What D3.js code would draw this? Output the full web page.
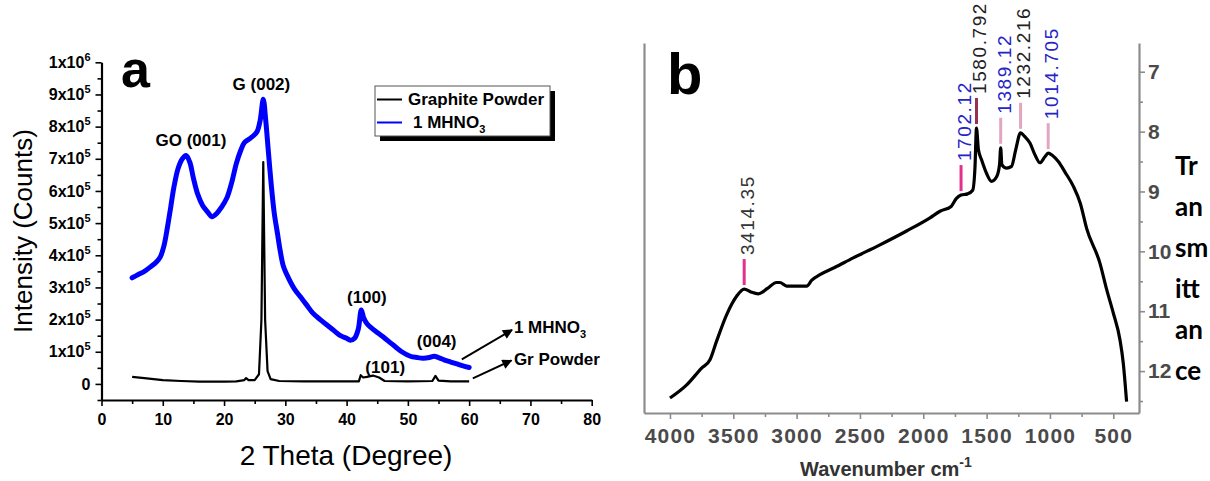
<!DOCTYPE html>
<html>
<head>
<meta charset="utf-8">
<script src="https://cdn.jsdelivr.net/npm/d3@7"></script>
<style>
body { margin: 0; background: #fff; }
svg { display: block; font-family: "Liberation Sans", Arial, sans-serif; }
</style>
</head>
<body>
<div class="chart"></div>
<script>
// ---------- panel a : XRD ----------
var grTheta = [5, 7, 10, 13, 16, 20, 22, 23.3, 23.6, 24, 25, 25.7, 26.1, 26.4, 26.7, 27.1, 27.6, 29, 33, 38, 42, 42.3, 42.7, 43.3, 44.3, 45.3, 46.2, 50, 54, 54.5, 55, 57, 60];
var grCounts = [22000, 18000, 12000, 9000, 7000, 7000, 8000, 12000, 18000, 12000, 12000, 30000, 200000, 690000, 200000, 40000, 15000, 9000, 8000, 8000, 8000, 27000, 20000, 22000, 26000, 20000, 9000, 8000, 9000, 25000, 10000, 8000, 8000];

var hnTheta = [5, 6, 7, 8, 9, 9.6, 10.2, 10.7, 11.3, 11.8, 12.5, 13.2, 13.8, 14.4, 15, 15.7, 16.5, 17.3, 18, 18.8, 19.6, 20.5, 21.3, 22, 22.7, 23.3, 24, 24.7, 25.4, 25.9, 26.4, 26.8, 27.2, 27.7, 28.2, 28.7, 29.2, 29.7, 30.5, 31.5, 32.5, 33.5, 34.5, 35.7, 37, 38, 39, 40, 40.6, 41.3, 41.9, 42.4, 42.8, 43.3, 44, 45, 46, 47, 48, 49, 50.4, 51.5, 52.5, 53.5, 54.3, 55, 56, 57, 58, 59, 60];
var hnCounts = [330000, 340000, 350000, 364000, 380000, 395000, 430000, 480000, 550000, 610000, 670000, 700000, 710000, 690000, 640000, 590000, 555000, 535000, 520000, 530000, 550000, 580000, 630000, 685000, 725000, 750000, 760000, 770000, 785000, 820000, 885000, 820000, 730000, 620000, 530000, 470000, 410000, 365000, 330000, 295000, 270000, 245000, 220000, 200000, 180000, 165000, 150000, 142000, 136000, 142000, 170000, 230000, 205000, 188000, 175000, 160000, 146000, 130000, 115000, 100000, 86000, 82000, 80000, 82000, 86000, 82000, 74000, 68000, 62000, 56000, 51000];

var xrdTicksX = [0, 10, 20, 30, 40, 50, 60, 70, 80];
var xrdTicksY = [0, 100000, 200000, 300000, 400000, 500000, 600000, 700000, 800000, 900000, 1000000];

var xrdPeakNames = ["GO (001)", "G (002)", "(100)", "(004)", "(101)"];
var xrdPeakTheta = [14.6, 26.1, 43.3, 54.7, 46.3];
var xrdPeakCounts = [740000, 914000, 251000, 114000, 34000];

var legendNames = ["Graphite Powder", "1 MHNO3"];
var arrowNames = ["1 MHNO3", "Gr Powder"];
var arrowFrom = [[58.8, 76000], [60.6, 17000]];
var arrowTo = [[67.0, 168000], [66.9, 73000]];
var arrowText = [[67.3, 158000], [67.3, 58000]];

// ---------- panel b : FTIR ----------
var wavenumber = [4000, 3868, 3750, 3684, 3632, 3553, 3474, 3414, 3360, 3303, 3230, 3160, 3132, 3079, 3000, 2921, 2880, 2816, 2700, 2553, 2350, 2132, 1947, 1868, 1780, 1740, 1702, 1650, 1610, 1592, 1580, 1565, 1540, 1500, 1462, 1420, 1398, 1389, 1380, 1342, 1303, 1270, 1232, 1200, 1158, 1120, 1079, 1040, 1014, 980, 934, 880, 816, 760, 710, 605, 552, 500, 447, 421, 395];
var transmittance = [12.45, 12.23, 11.95, 11.81, 11.5, 11.06, 10.75, 10.63, 10.68, 10.71, 10.62, 10.52, 10.52, 10.58, 10.58, 10.58, 10.48, 10.39, 10.27, 10.11, 9.9, 9.66, 9.44, 9.33, 9.25, 9.12, 9.06, 9.04, 8.98, 8.6, 7.94, 8.3, 8.47, 8.7, 8.83, 8.75, 8.55, 8.27, 8.55, 8.61, 8.58, 8.3, 8.02, 8.08, 8.19, 8.38, 8.52, 8.42, 8.36, 8.4, 8.5, 8.68, 8.91, 9.2, 9.62, 10.2, 10.64, 11.03, 11.48, 11.87, 12.51];

var ftirTicksX = [4000, 3500, 3000, 2500, 2000, 1500, 1000, 500];
var ftirTicksY = [7, 8, 9, 10, 11, 12];
var ftirPeaks = [3414, 1702, 1580, 1389, 1232, 1014];
var ftirPeakLabels = ["3414.35", "1702.12", "1580.792", "1389.12", "1232.216", "1014.705"];
var yTitleParts = ["Tr", "an", "sm", "itt", "an", "ce"];

// colours for peak labels / markers
var peakTextColor = ["#333", "#2424c8", "#222", "#2424c8", "#222", "#2424c8"];
var peakMarkColor = ["#e3308a", "#e3308a", "#9a3050", "#e2a6c0", "#e2a6c0", "#e2a6c0"];

var svg = d3.select(".chart")
  .append("svg")
  .attr("width", 1210)
  .attr("height", 481);

svg.append("defs").append("marker")
  .attr("id", "arrow")
  .attr("viewBox", "0 0 10 10")
  .attr("refX", 9)
  .attr("refY", 5)
  .attr("markerUnits", "userSpaceOnUse")
  .attr("markerWidth", 13)
  .attr("markerHeight", 10)
  .attr("orient", "auto")
  .append("path")
  .attr("d", "M0,0L10,5L0,10z")
  .attr("fill", "#000");

// subscript the 3 of HNO3
function chem(sel, txt) {
  var m = txt.match(/^(.*HNO)3$/);
  if (!m) { sel.text(txt); return; }
  sel.append("tspan").text(m[1]);
  sel.append("tspan").attr("font-size", "11px").attr("dy", 5).text("3");
}

// ================= panel a =================
var ax = d3.scaleLinear().domain([0, 80]).range([101.5, 591.7]);
var ay = d3.scaleLinear().domain([-50000, 1000000]).range([400, 62.3]);

var gA = svg.append("g");

gA.append("g")
  .attr("transform", "translate(0,400)")
  .call(d3.axisBottom(ax).tickValues(d3.range(5, 80, 10)).tickSize(4).tickFormat(""))
  .call(function(g) { g.select(".domain").remove(); });

gA.append("g")
  .attr("transform", "translate(101.5,0)")
  .call(d3.axisLeft(ay).tickValues(d3.range(-50000, 1000000, 100000)).tickSize(4).tickFormat(""))
  .call(function(g) { g.select(".domain").remove(); });

gA.append("g")
  .attr("transform", "translate(0,400)")
  .call(d3.axisBottom(ax).tickValues(xrdTicksX).tickSize(6).tickSizeOuter(0).tickPadding(8));

var yAxisA = gA.append("g")
  .attr("transform", "translate(101.5,0)")
  .call(d3.axisLeft(ay).tickValues(xrdTicksY).tickSize(6).tickSizeOuter(0).tickPadding(5));

yAxisA.selectAll(".tick text").each(function(v) {
  var t = d3.select(this).text("");
  if (v === 0) { t.text("0"); return; }
  var e = Math.floor(Math.log10(v) + 1e-9);
  t.append("tspan").text(Math.round(v / Math.pow(10, e)) + "x10");
  t.append("tspan").attr("font-size", "11px").attr("dy", "-7").text(e);
});

gA.selectAll(".domain").attr("stroke-width", 2.2);
gA.selectAll(".tick line").attr("stroke-width", 1.6);
gA.selectAll(".tick text")
  .attr("font-size", "16px")
  .attr("font-weight", "bold")
  .attr("fill", "#000")
  .attr("font-family", "Liberation Sans, Arial, sans-serif");

var lineA = d3.line()
  .x(function(d) { return ax(d[0]); })
  .y(function(d) { return ay(d[1]); });

gA.append("path")
  .datum(d3.zip(hnTheta, hnCounts))
  .attr("d", lineA.curve(d3.curveCatmullRom))
  .attr("fill", "none")
  .attr("stroke", "#0000ff")
  .attr("stroke-width", 5)
  .attr("stroke-linejoin", "round")
  .attr("stroke-linecap", "round");

gA.append("path")
  .datum(d3.zip(grTheta, grCounts))
  .attr("d", lineA.curve(d3.curveLinear))
  .attr("fill", "none")
  .attr("stroke", "#000")
  .attr("stroke-width", 2.2)
  .attr("stroke-linejoin", "round");

gA.selectAll(".peak")
  .data(xrdPeakNames)
  .enter().append("text")
  .attr("x", function(d, i) { return ax(xrdPeakTheta[i]); })
  .attr("y", function(d, i) { return ay(xrdPeakCounts[i]); })
  .attr("text-anchor", "middle")
  .attr("font-size", "17px")
  .attr("font-weight", "bold")
  .text(function(d) { return d; });

// arrows to the curve names
arrowNames.forEach(function(name, i) {
  gA.append("line")
    .attr("x1", ax(arrowFrom[i][0])).attr("y1", ay(arrowFrom[i][1]))
    .attr("x2", ax(arrowTo[i][0])).attr("y2", ay(arrowTo[i][1]))
    .attr("stroke", "#000")
    .attr("stroke-width", 2)
    .attr("marker-end", "url(#arrow)");
  gA.append("text")
    .attr("x", ax(arrowText[i][0]))
    .attr("y", ay(arrowText[i][1]))
    .attr("font-size", "17px")
    .attr("font-weight", "bold")
    .call(chem, name);
});

// legend
gA.append("rect").attr("x", 380).attr("y", 91).attr("width", 175).attr("height", 50).attr("fill", "#000");
gA.append("rect").attr("x", 375).attr("y", 86).attr("width", 175).attr("height", 50)
  .attr("fill", "#fff").attr("stroke", "#555").attr("stroke-width", 1);
var legendColors = ["#000", "#0000ff"];
legendNames.forEach(function(name, i) {
  var ly = 99.5 + i * 23;
  gA.append("line").attr("x1", 377).attr("x2", 402).attr("y1", ly).attr("y2", ly)
    .attr("stroke", legendColors[i]).attr("stroke-width", 2);
  gA.append("text")
    .attr("x", 408 + i * 5)
    .attr("y", ly + 5)
    .attr("font-size", "17px")
    .attr("font-weight", "bold")
    .call(chem, name);
});

gA.append("text")
  .attr("transform", "translate(32,231) rotate(-90)")
  .attr("text-anchor", "middle")
  .attr("font-size", "26px")
  .text("Intensity (Counts)");

gA.append("text")
  .attr("x", 346)
  .attr("y", 465)
  .attr("text-anchor", "middle")
  .attr("font-size", "28px")
  .text("2 Theta (Degree)");

gA.append("text")
  .attr("x", 121)
  .attr("y", 87)
  .attr("font-size", "52px")
  .attr("font-weight", "bold")
  .text("a");

// ================= panel b =================
var bx = d3.scaleLinear().domain([4205, 297]).range([644, 1139]);
var by = d3.scaleLinear().domain([6.52, 12.7]).range([43, 413]);
var gray = "#8c8c8c";

var gB = svg.append("g");

gB.append("g")
  .attr("transform", "translate(0,413)")
  .call(d3.axisBottom(bx).tickValues(d3.range(3750, 400, -500)).tickSize(4).tickFormat(""))
  .call(function(g) { g.select(".domain").remove(); });

gB.append("g")
  .attr("transform", "translate(1139,0)")
  .call(d3.axisRight(by).tickValues(d3.range(7.5, 13, 1)).tickSize(4).tickFormat(""))
  .call(function(g) { g.select(".domain").remove(); });

var xAxisB = gB.append("g")
  .attr("transform", "translate(0,413)")
  .call(d3.axisBottom(bx).tickValues(ftirTicksX).tickFormat(d3.format("d"))
    .tickSize(6).tickSizeOuter(0).tickPadding(9));

gB.append("g")
  .attr("transform", "translate(1139,0)")
  .call(d3.axisRight(by).tickValues(ftirTicksY).tickFormat(d3.format("d"))
    .tickSize(6).tickSizeOuter(0).tickPadding(3));

gB.append("g")
  .attr("transform", "translate(644,0)")
  .call(d3.axisLeft(by).tickValues([]).tickSizeOuter(0));

gB.selectAll(".domain").attr("stroke", gray).attr("stroke-width", 2.2);
gB.selectAll(".tick line").attr("stroke", gray).attr("stroke-width", 1.6);
gB.selectAll(".tick text")
  .attr("font-size", "21px")
  .attr("font-weight", "bold")
  .attr("fill", "#4a4a4a")
  .attr("font-family", "Liberation Sans, Arial, sans-serif");
xAxisB.selectAll(".tick text").attr("letter-spacing", "1.2px");

var lineB = d3.line()
  .x(function(d) { return bx(d[0]); })
  .y(function(d) { return by(d[1]); })
  .curve(d3.curveMonotoneX);

// peak markers and labels
ftirPeaks.forEach(function(p, i) {
  var k = wavenumber.indexOf(p);
  var px = bx(p), py = by(transmittance[k]);
  gB.append("line")
    .attr("x1", px).attr("x2", px)
    .attr("y1", py - 4).attr("y2", py - 30)
    .attr("stroke", peakMarkColor[i])
    .attr("stroke-width", 3);
  gB.append("text")
    .attr("transform", "translate(" + (px + 3) + "," + (py - 34) + ") rotate(-90)")
    .attr("dy", "0.36em")
    .attr("font-size", "19px")
    .attr("letter-spacing", "1.6px")
    .attr("fill", peakTextColor[i])
    .text(ftirPeakLabels[i]);
});

gB.append("path")
  .datum(d3.zip(wavenumber, transmittance))
  .attr("d", lineB)
  .attr("fill", "none")
  .attr("stroke", "#000")
  .attr("stroke-width", 3.2)
  .attr("stroke-linejoin", "round");

var xt = gB.append("text")
  .attr("x", 800)
  .attr("y", 476)
  .attr("font-size", "20px")
  .attr("font-weight", "bold")
  .attr("fill", "#333");
xt.append("tspan").text("Wavenumber cm");
xt.append("tspan").attr("font-size", "14px").attr("dy", -9).text("-1");

gB.selectAll(".ytitle")
  .data(yTitleParts)
  .enter().append("text")
  .attr("x", 1175)
  .attr("y", function(d, i) { return 175 + i * 41; })
  .attr("font-family", "Lato, 'Open Sans', sans-serif")
  .attr("font-size", "26px")
  .attr("font-weight", "bold")
  .text(function(d) { return d; });

gB.append("text")
  .attr("x", 667)
  .attr("y", 94)
  .attr("font-size", "58px")
  .attr("font-weight", "bold")
  .text("b");
</script>
</body>
</html>
